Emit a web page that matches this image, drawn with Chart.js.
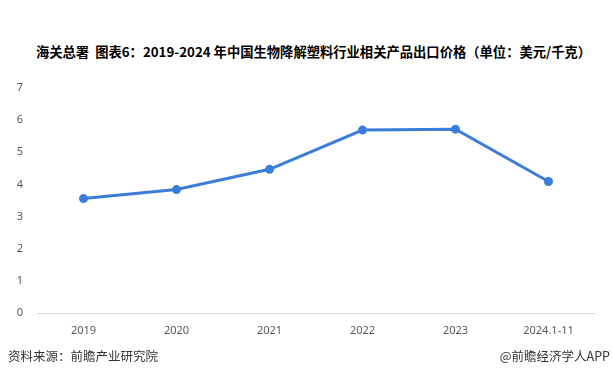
<!DOCTYPE html>
<html>
<head>
<meta charset="utf-8">
<script src="https://cdn.jsdelivr.net/npm/chart.js@4/dist/chart.umd.min.js"></script>
<style>
  body { margin: 0; width: 613px; height: 379px; background: #fff; position: relative; overflow: hidden; font-family: "Noto Sans CJK SC", sans-serif; }
  #title { position: absolute; top: 42px; left: 7px; width: 613px; text-align: center; font-size: 13.3px; font-weight: bold; color: #000; }
  #src { position: absolute; top: 346px; left: 8px; font-size: 12.5px; color: #333; }
  #brand { position: absolute; top: 346px; right: 3px; font-size: 12.5px; color: #333; }
  #wrap { position: absolute; left: 0; top: 0; width: 613px; height: 379px; }
</style>
</head>
<body>
<div id="title">海关总署&nbsp; 图表6：2019-2024 年中国生物降解塑料行业相关产品出口价格（单位：美元/千克）</div>
<div id="wrap"><canvas id="myChart" width="613" height="379"></canvas></div>
<div id="src">资料来源：前瞻产业研究院</div>
<div id="brand">@前瞻经济学人APP</div>
<script>
// chart data
const years = ['2019', '2020', '2021', '2022', '2023', '2024.1-11'];
const prices = [3.56, 3.84, 4.47, 5.69, 5.72, 4.09];
const yTicks = [0, 1, 2, 3, 4, 5, 6, 7];

const ctx = document.getElementById('myChart').getContext('2d');
const myChart = new Chart(ctx, {
    type: 'line',
    data: {
        labels: years,
        datasets: [{
            data: prices,
            borderColor: '#3b7dd8',
            backgroundColor: '#3b7dd8',
            borderWidth: 3,
            pointRadius: 3,
            pointHoverRadius: 3,
            tension: 0
        }]
    },
    options: {
        responsive: false,
        animation: false,
        layout: { padding: { top: 88, bottom: 42, right: 18, left: 0 } },
        plugins: { legend: { display: false }, tooltip: { enabled: false } },
        scales: {
            x: {
                offset: true,
                grid: { display: false, offset: true },
                border: { display: true, color: '#d9d9d9', width: 1 },
                ticks: { color: '#595959', font: { family: 'Noto Sans', size: 11 }, padding: 3 },
                afterFit: function(s) { s.height = 24; }
            },
            y: {
                min: 0,
                max: 7,
                afterBuildTicks: function(s) { s.ticks = yTicks.map(v => ({ value: v })); },
                grid: { display: false },
                border: { display: false },
                ticks: { color: '#595959', font: { family: 'Noto Sans', size: 11 }, padding: 6 },
                afterFit: function(s) { s.width = 37; }
            }
        }
    }
});
</script>
</body>
</html>
